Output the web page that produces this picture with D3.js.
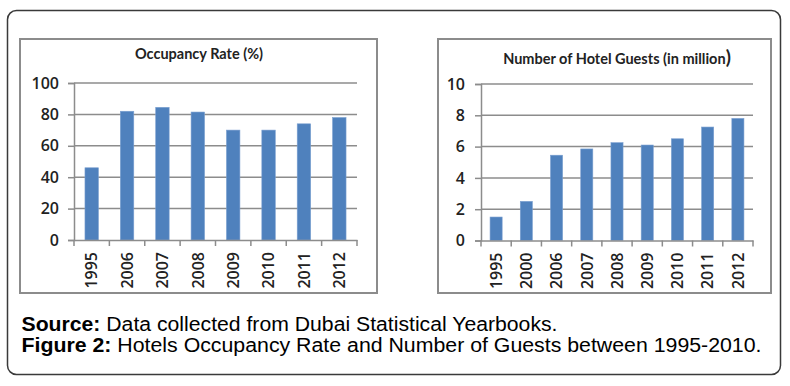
<!DOCTYPE html>
<html>
<head>
<meta charset="utf-8">
<script src="https://cdn.jsdelivr.net/npm/d3@7"></script>
<style>
  body { margin: 0; background: #fff; }
  svg { display: block; }
</style>
</head>
<body>
<svg id="fig" width="790" height="386"></svg>
<script>
// data
var occYears = ["1995", "2006", "2007", "2008", "2009", "2010", "2011", "2012"];
var occRate = [46, 82, 84.5, 81.5, 70, 70, 74, 78];
var occTicks = [0, 20, 40, 60, 80, 100];

var guestYears = ["1995", "2000", "2006", "2007", "2008", "2009", "2010", "2011", "2012"];
var guestMillions = [1.5, 2.5, 5.45, 5.85, 6.25, 6.1, 6.5, 7.25, 7.8];
var guestTicks = [0, 2, 4, 6, 8, 10];

var svg = d3.select("#fig");
var chartFont = "Lato, 'Open Sans', sans-serif";
var tickFont = "'Open Sans', Lato, sans-serif";

// outer rounded frame
svg.append("rect")
  .attr("x", 7.5).attr("y", 10.5)
  .attr("width", 773).attr("height", 364)
  .attr("rx", 9)
  .attr("fill", "#fff")
  .attr("stroke", "#3a3a3a")
  .attr("stroke-width", 1.5);

function drawChart(opt) {
  var g = svg.append("g");

  // chart frame
  g.append("rect")
    .attr("x", opt.box[0]).attr("y", opt.box[1])
    .attr("width", opt.box[2]).attr("height", opt.box[3])
    .attr("fill", "#fff")
    .attr("stroke", "#8c8c8c")
    .attr("stroke-width", 2);

  var x = d3.scaleBand()
    .domain(opt.cats)
    .range([opt.left, opt.right])
    .paddingInner(opt.pad)
    .paddingOuter(opt.pad / 2);

  var y = d3.scaleLinear()
    .domain([0, d3.max(opt.ticks)])
    .range([opt.bottom, opt.top]);

  // gridlines
  g.selectAll(".grid")
    .data(opt.ticks.filter(function (t) { return t > 0; }))
    .enter().append("line")
    .attr("x1", opt.left).attr("x2", opt.right)
    .attr("y1", function (d) { return y(d); })
    .attr("y2", function (d) { return y(d); })
    .attr("stroke", "#8c8c8c")
    .attr("stroke-width", 1.5);

  // bars
  g.selectAll(".bar")
    .data(opt.values)
    .enter().append("rect")
    .attr("x", function (d, i) { return x(opt.cats[i]); })
    .attr("y", function (d) { return y(d); })
    .attr("width", x.bandwidth())
    .attr("height", function (d) { return y(0) - y(d); })
    .attr("fill", "#4f81bd")
    .attr("stroke", "#7a9fd0")
    .attr("stroke-width", 0.6);

  // y axis
  var yAxis = g.append("g")
    .attr("transform", "translate(" + opt.left + ",0)")
    .call(d3.axisLeft(y).tickValues(opt.ticks).tickSize(6).tickPadding(opt.labelGap));
  yAxis.select(".domain").attr("stroke", "#8c8c8c").attr("stroke-width", 1.5);
  yAxis.selectAll(".tick line").attr("stroke", "#8c8c8c").attr("stroke-width", 1.5);
  yAxis.selectAll("text")
    .attr("font-family", tickFont)
    .attr("font-size", 16)
    .attr("font-weight", 600)
    .attr("fill", "#222");

  // x axis: labels rotated, ticks on category boundaries
  var xAxis = g.append("g")
    .attr("transform", "translate(0," + opt.bottom + ")")
    .call(d3.axisBottom(x).tickSize(0));
  xAxis.select(".domain").attr("stroke", "#8c8c8c").attr("stroke-width", 1.5);
  xAxis.selectAll("text")
    .attr("transform", "rotate(-90)")
    .attr("x", -12).attr("y", 0).attr("dy", "0.36em")
    .attr("text-anchor", "end")
    .attr("font-family", tickFont)
    .attr("font-size", 16)
    .attr("font-weight", 600)
    .attr("fill", "#222");

  var step = x.step();
  var bounds = d3.range(opt.cats.length + 1).map(function (i) { return opt.left + i * step; });
  xAxis.selectAll(".bound")
    .data(bounds)
    .enter().append("line")
    .attr("x1", function (d) { return d; }).attr("x2", function (d) { return d; })
    .attr("y1", 0).attr("y2", 6)
    .attr("stroke", "#8c8c8c")
    .attr("stroke-width", 1.5);

  // title
  var t = g.append("text")
    .attr("x", opt.titleX).attr("y", opt.titleY)
    .attr("text-anchor", "middle")
    .attr("font-family", chartFont)
    .attr("font-size", 14.5)
    .attr("font-weight", 700)
    .attr("fill", "#222");
  t.append("tspan").text(opt.title);
  if (opt.titleTail) {
    t.append("tspan").attr("font-size", 19).text(opt.titleTail);
  }
}

drawChart({
  box: [20, 39, 357, 254],
  left: 74, right: 357, top: 83, bottom: 240,
  cats: occYears, values: occRate, ticks: occTicks,
  pad: 0.62, labelGap: 9,
  title: "Occupancy Rate (%)", titleX: 199, titleY: 59
});

drawChart({
  box: [438, 39, 333, 254],
  left: 481, right: 753, top: 84, bottom: 240.5,
  cats: guestYears, values: guestMillions, ticks: guestTicks,
  pad: 0.6, labelGap: 10,
  title: "Number of Hotel Guests (in million", titleTail: ")", titleX: 617, titleY: 64
});

// caption
var caption = [
  { bold: "Source:", rest: " Data collected from Dubai Statistical Yearbooks.", y: 331, len: 536 },
  { bold: "Figure 2:", rest: " Hotels Occupancy Rate and Number of Guests between 1995-2010.", y: 352, len: 740 }
];
caption.forEach(function (c) {
  var t = svg.append("text")
    .attr("x", 21.5).attr("y", c.y)
    .attr("font-family", "'Liberation Sans', Arial, sans-serif")
    .attr("font-size", 20)
    .attr("fill", "#000")
    .attr("textLength", c.len)
    .attr("lengthAdjust", "spacingAndGlyphs");
  t.append("tspan").attr("font-weight", 700).text(c.bold);
  t.append("tspan").text(c.rest);
});
</script>
</body>
</html>
